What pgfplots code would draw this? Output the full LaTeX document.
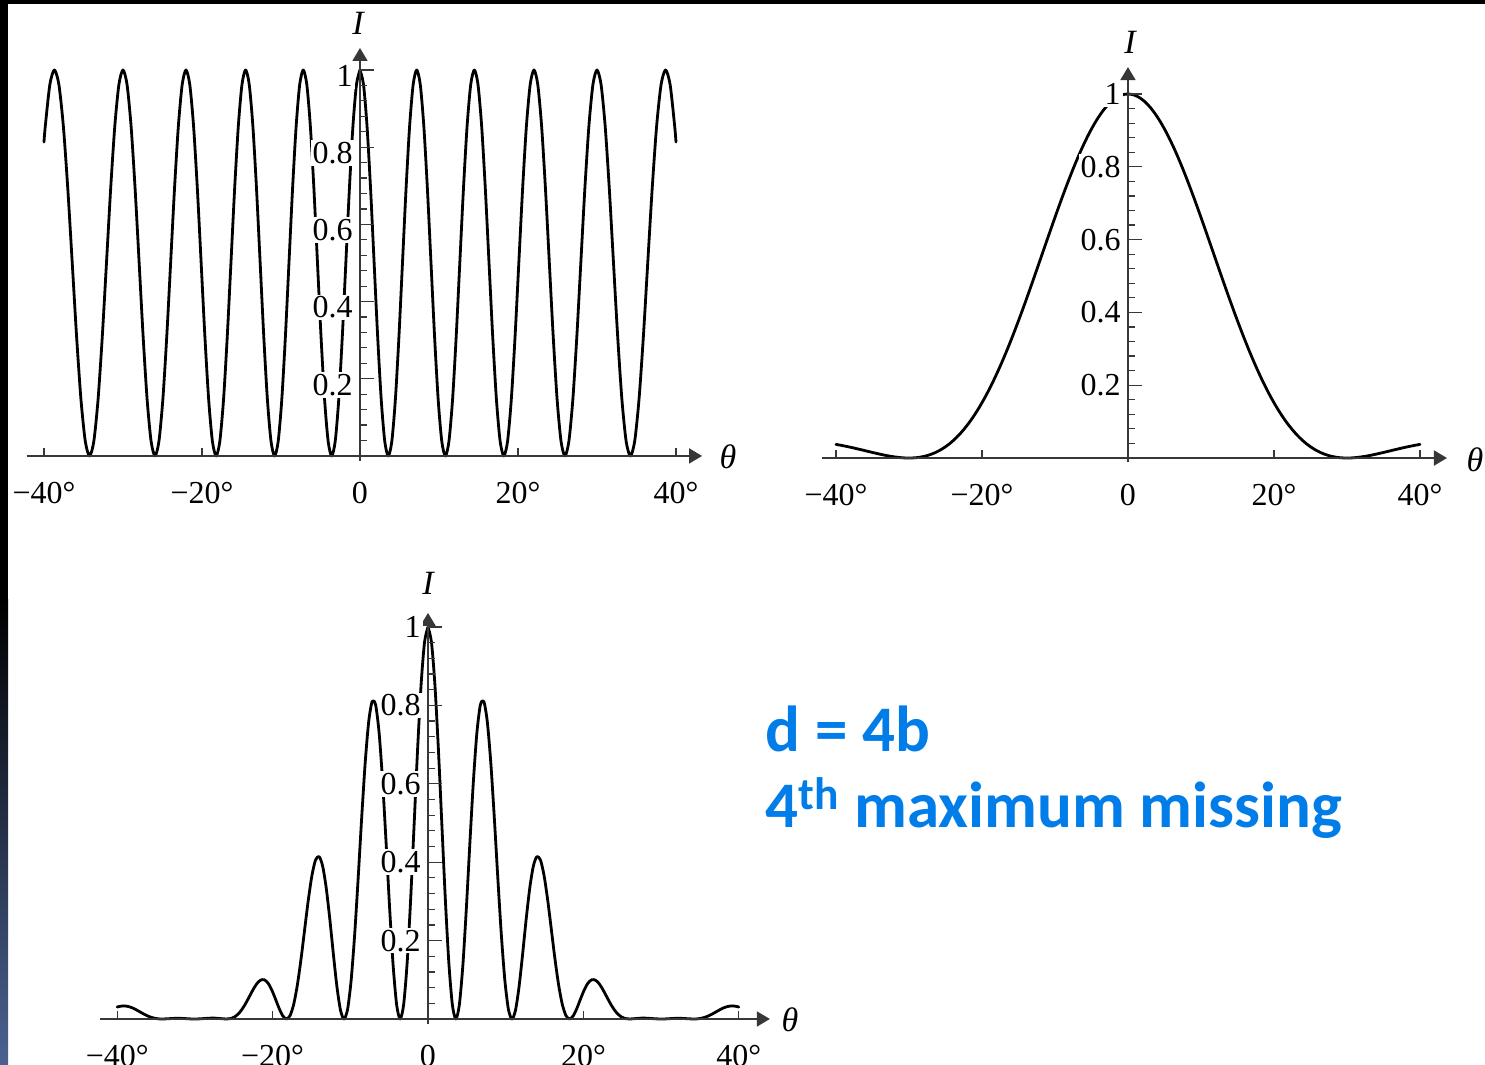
\documentclass[border=0pt]{standalone}
\usepackage{fontspec}
\setmainfont{Liberation Serif}
\newfontfamily\notefont{Carlito}
\usepackage{pgfplots}
\pgfplotsset{compat=1.18}
\usepackage{pgfplotstable}
\usetikzlibrary{arrows.meta}

\definecolor{noteblue}{RGB}{0,125,232}
\definecolor{axisgray}{RGB}{55,55,55}
\definecolor{edgeblue}{RGB}{75,98,145}

% theta (deg), A = two slits, B = one slit, C = both (right half, mirrored)
\pgfplotstableread{
t A B C
0.0000 1.0000 1.0000 1.0000
0.4476 0.9619 0.9992 0.9611
0.8952 0.8536 0.9968 0.8509
1.3429 0.6913 0.9928 0.6863
1.7905 0.5000 0.9872 0.4936
2.2388 0.3087 0.9801 0.3026
2.6867 0.1464 0.9714 0.1422
3.1349 0.0381 0.9613 0.0366
3.5833 0.0000 0.9496 0.0000
4.0319 0.0381 0.9366 0.0357
4.4807 0.1464 0.9222 0.1350
4.9298 0.3087 0.9065 0.2798
5.3791 0.5000 0.8896 0.4448
5.8293 0.6913 0.8714 0.6024
6.2794 0.8536 0.8522 0.7274
6.7298 0.9619 0.8319 0.8002
7.1808 1.0000 0.8106 0.8106
7.6322 0.9619 0.7884 0.7584
8.0840 0.8536 0.7654 0.6533
8.5363 0.6913 0.7417 0.5127
8.9890 0.5000 0.7173 0.3587
9.4429 0.3087 0.6923 0.2137
9.8969 0.1464 0.6669 0.0976
10.3515 0.0381 0.6411 0.0244
10.8069 0.0000 0.6150 0.0000
11.2629 0.0381 0.5887 0.0224
11.7197 0.1464 0.5622 0.0823
12.1771 0.3087 0.5357 0.1654
12.6352 0.5000 0.5092 0.2546
13.0949 0.6913 0.4829 0.3338
13.5548 0.8536 0.4567 0.3898
14.0157 0.9619 0.4308 0.4144
14.4775 1.0000 0.4053 0.4053
14.9403 0.9619 0.3802 0.3657
15.4040 0.8536 0.3556 0.3035
15.8687 0.6913 0.3315 0.2292
16.3344 0.5000 0.3080 0.1540
16.8020 0.3087 0.2853 0.0881
17.2702 0.1464 0.2632 0.0385
17.7394 0.0381 0.2419 0.0092
18.2100 0.0000 0.2214 0.0000
18.6818 0.0381 0.2018 0.0077
19.1550 0.1464 0.1830 0.0268
19.6294 0.3087 0.1651 0.0510
20.1051 0.5000 0.1482 0.0741
20.5831 0.6913 0.1322 0.0914
21.0619 0.8536 0.1172 0.1000
21.5422 0.9619 0.1031 0.0992
22.0243 1.0000 0.0901 0.0901
22.5080 0.9619 0.0780 0.0750
22.9933 0.8536 0.0668 0.0570
23.4803 0.6913 0.0566 0.0391
23.9689 0.5000 0.0474 0.0237
24.4605 0.3087 0.0390 0.0120
24.9530 0.1464 0.0316 0.0046
25.4477 0.0381 0.0251 0.0010
25.9444 0.0000 0.0194 0.0000
26.4433 0.0381 0.0145 0.0006
26.9442 0.1464 0.0104 0.0015
27.4473 0.3087 0.0070 0.0022
27.9524 0.5000 0.0044 0.0022
28.4615 0.6913 0.0024 0.0017
28.9717 0.8536 0.0010 0.0009
29.4844 0.9619 0.0003 0.0003
30.0000 1.0000 0.0000 0.0000
30.5182 0.9619 0.0002 0.0002
31.0391 0.8536 0.0009 0.0008
31.5627 0.6913 0.0020 0.0014
32.0890 0.5000 0.0034 0.0017
32.6211 0.3087 0.0051 0.0016
33.1538 0.1464 0.0071 0.0010
33.6899 0.0381 0.0093 0.0004
34.2296 0.0000 0.0117 0.0000
34.7727 0.0381 0.0142 0.0005
35.3194 0.1464 0.0168 0.0025
35.8695 0.3087 0.0195 0.0060
36.4230 0.5000 0.0222 0.0111
36.9826 0.6913 0.0248 0.0171
37.5446 0.8536 0.0275 0.0235
38.1111 0.9619 0.0300 0.0289
38.6822 1.0000 0.0324 0.0324
39.2579 0.9619 0.0347 0.0334
39.8382 0.8536 0.0369 0.0315
40.0000 0.8132 0.0374 0.0304
}\slits

\pgfplotsset{
  slitaxis/.style={
    axis lines=middle, axis on top, clip=false,
    anchor=south west, ymin=-0.012,
    hide obscured x ticks=false, hide obscured y ticks=false,
    xtick={-40,-20,0,20,40}, xticklabels={−40°,−20°,0,20°,40°},
    ytick={0.2,0.4,0.6,0.8,1}, yticklabels={0.2,0.4,0.6,0.8,1},
    minor ytick={0.04,0.08,0.12,0.16,0.24,0.28,0.32,0.36,0.44,0.48,0.52,0.56,0.64,0.68,0.72,0.76,0.84,0.88,0.92,0.96},
    tick align=inside,
    major tick length=7pt, minor tick length=3.5pt,
    xtick style={/pgfplots/major tick length=4pt},
    tick style={axisgray, line width=0.6pt},
    axis line style={axisgray, line width=0.9pt},
    x axis line style={-{Triangle[length=6.5pt,width=7.5pt]}},
    y axis line style={-{Triangle[length=6.5pt,width=7.5pt]}},
    tick label style={font=\fontsize{16}{18}\selectfont},
    xticklabel style={anchor=north, inner sep=0pt, yshift=-13pt},
    yticklabel style={anchor=east, fill=white, inner sep=1pt, xshift=-2.5pt},
    /pgf/number format/assume math mode=true,
  },
  curve/.style={black, line width=1.4pt, line join=round, line cap=round,
    no marks, smooth, tension=0.45},
}

\begin{document}
\begin{tikzpicture}
% page: 1485 x 1065 px at 0.5pt per px
\clip (0pt,0pt) rectangle (742.5pt,532.5pt);
\fill[white] (0pt,0pt) rectangle (742.5pt,532.5pt);

% top-left: two slits
\begin{axis}[slitaxis, at={(13.3pt,302.2pt)}, x=3.95pt, y=193pt,
  xmin=-42.2, xmax=43.3, ymax=1.057,
  yticklabel style={yshift=-3pt}]
\addplot[curve] table[x=t, y=A] {\slits};
\addplot[curve] table[x expr=-\thisrow{t}, y=A] {\slits};
\end{axis}

% top-right: one slit
\begin{axis}[slitaxis, at={(411.05pt,301.3pt)}, x=3.65pt, y=182pt,
  xmin=-41.9, xmax=43.7, ymax=1.074]
\addplot[curve] table[x=t, y=B] {\slits};
\addplot[curve] table[x expr=-\thisrow{t}, y=B] {\slits};
\end{axis}

% bottom: both together
\begin{axis}[slitaxis, at={(50.05pt,20.65pt)}, x=3.885pt, y=196pt,
  xmin=-42.2, xmax=44.0, ymax=1.036]
\addplot[curve] table[x=t, y=C] {\slits};
\addplot[curve] table[x expr=-\thisrow{t}, y=C] {\slits};
\end{axis}

\begin{scope}[x=0.5pt, y=0.5pt]
% axis names
\begin{scope}[every node/.style={font=\fontsize{17}{19}\selectfont\itshape, inner sep=0pt}]
\node at (358,1042) {I};
\node at (728,608) {θ};
\node at (1130,1023) {I};
\node at (1475,605) {θ};
\node at (428,482) {I};
\node at (790,45) {θ};
\end{scope}

% note
\node[anchor=base west, inner sep=0pt, text=noteblue,
  font=\notefont\bfseries\fontsize{32.5}{38}\selectfont] at (765,313) {d = 4b};
\node[anchor=base west, inner sep=0pt, text=noteblue,
  font=\notefont\bfseries\fontsize{32.5}{38}\selectfont] at (765,237) {4\textsuperscript{th} maximum missing};

% slide edges
\fill[black] (0,1060.5) rectangle (1485,1065);
\fill[black] (0,465) rectangle (8,1065);
\shade[top color=black, bottom color=edgeblue] (0,0) rectangle (8,465);
\end{scope}
\end{tikzpicture}
\end{document}
